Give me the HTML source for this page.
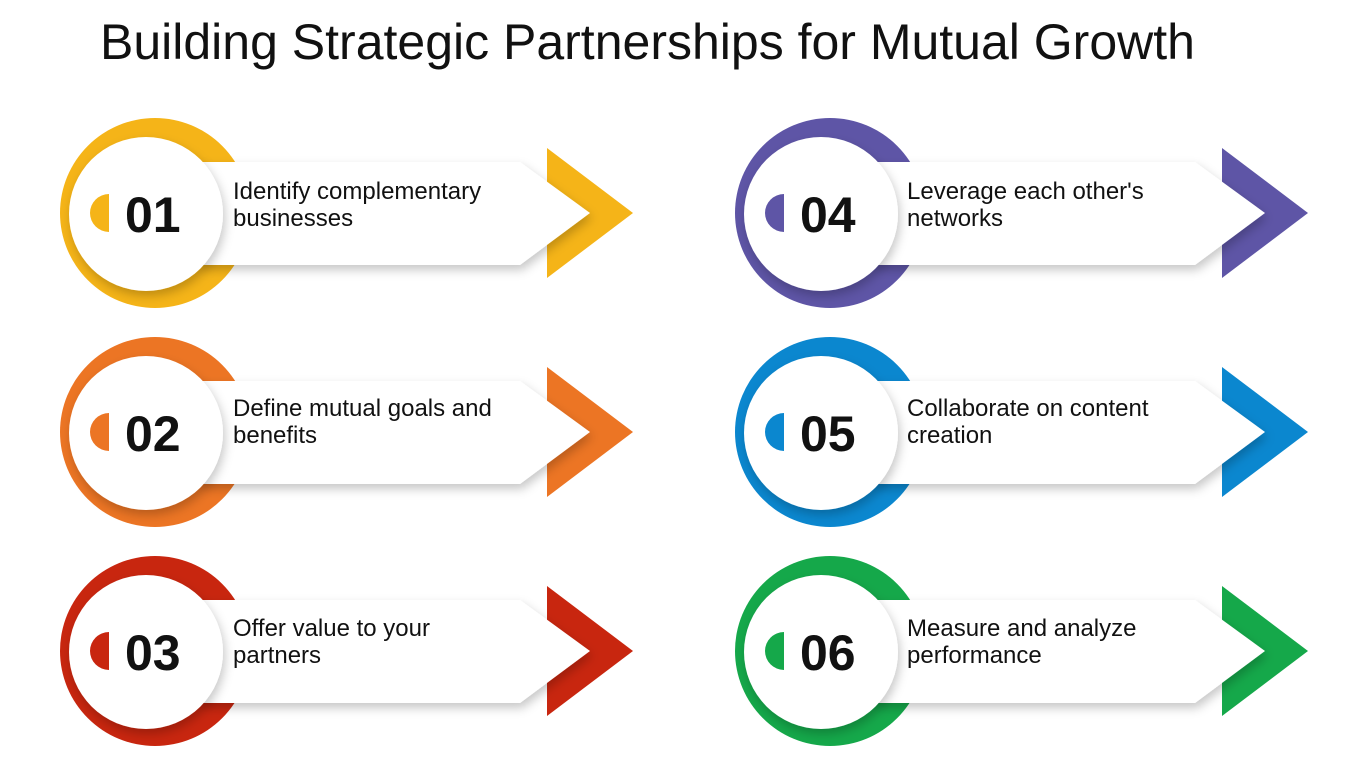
<!DOCTYPE html>
<html><head><meta charset="utf-8"><style>
html,body{margin:0;padding:0;background:#fff;width:1350px;height:759px;overflow:hidden}
svg{display:block}
.t{font-family:"Liberation Sans",sans-serif;font-size:24px;fill:#111}
.n{font-family:"Liberation Sans",sans-serif;font-size:50px;font-weight:bold;fill:#111}
</style></head><body>
<svg width="1350" height="759" viewBox="0 0 1350 759">
<defs>
<filter id="sh" x="-20%" y="-20%" width="140%" height="150%"><feDropShadow dx="2" dy="5" stdDeviation="5" flood-color="#000" flood-opacity="0.22"/></filter>
<g id="item">
<polygon points="-108,-65 -22,0 -108,65" />
<circle cx="-500" cy="0" r="95"/>
<polygon points="-455,-51 -135,-51 -65,0 -135,52 -455,52" fill="#fff" filter="url(#sh)"/>
<circle cx="-509" cy="1" r="77" fill="#fff" filter="url(#sh)"/>
<path d="M-546,-19 A19,19 0 0 0 -546,19 Z"/>
</g>
</defs>
<text x="100" y="59" font-family="Liberation Sans, sans-serif" font-size="50" fill="#111">Building Strategic Partnerships for Mutual Growth</text>
<g transform="translate(655,213)" fill="#F5B418"><use href="#item"/></g>
<g transform="translate(655,432)" fill="#EC7524"><use href="#item"/></g>
<g transform="translate(655,651)" fill="#C8260F"><use href="#item"/></g>
<g transform="translate(1330,213)" fill="#5E55A6"><use href="#item"/></g>
<g transform="translate(1330,432)" fill="#0B87CF"><use href="#item"/></g>
<g transform="translate(1330,651)" fill="#15A84A"><use href="#item"/></g>
<g class="n">
<text x="125" y="232">01</text><text x="125" y="451">02</text><text x="125" y="670">03</text>
<text x="800" y="232">04</text><text x="800" y="451">05</text><text x="800" y="670">06</text>
</g>
<g class="t">
<text x="233" y="199">Identify complementary</text><text x="233" y="226">businesses</text>
<text x="233" y="416">Define mutual goals and</text><text x="233" y="443">benefits</text>
<text x="233" y="636">Offer value to your</text><text x="233" y="663">partners</text>
<text x="907" y="199">Leverage each other's</text><text x="907" y="226">networks</text>
<text x="907" y="416">Collaborate on content</text><text x="907" y="443">creation</text>
<text x="907" y="636">Measure and analyze</text><text x="907" y="663">performance</text>
</g>
</svg>
</body></html>
